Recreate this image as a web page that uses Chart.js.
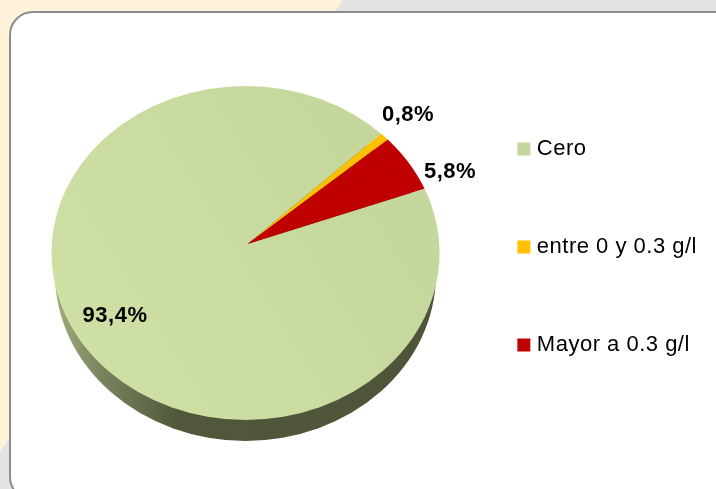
<!DOCTYPE html>
<html>
<head>
<meta charset="utf-8">
<script src="https://cdn.jsdelivr.net/npm/chart.js@4"></script>
<style>
  html, body { margin: 0; padding: 0; width: 716px; height: 489px; overflow: hidden; background: #e3e3e3; }
  #cream { position: absolute; left: 0; top: 0; width: 716px; height: 489px; background: #fff2d9;
           clip-path: polygon(0 0, 343px 0, 335px 12px, 8px 440px, 0 452px); }
  #panel { position: absolute; left: 9px; top: 11px; width: 760px; height: 490px; box-sizing: border-box;
           background: #fff; border: 2px solid #8c8c8c; border-radius: 24px; }
  #wrap { position: absolute; left: 0; top: 0; width: 716px; height: 489px; }
</style>
</head>
<body>
<div id="cream"></div>
<div id="panel"></div>
<div id="wrap"><canvas id="myChart"></canvas></div>
<script>
const categories = ["Cero", "entre 0 y 0.3 g/l", "Mayor a 0.3 g/l"];
const values = [93.4, 0.8, 5.8];
const sliceColors = ["#c3d69b", "#ffc000", "#c00000"];

// where each percentage sits on the page
const labelSpots = [[115, 316], [408, 115], [450, 172]];

// the top of the pie is an ellipse, its apex sits a bit above the ellipse centre
const top_ = { cx: 245.5, cy: 253, rx: 194, ry: 167, depth: 21, sideRx: 190.5 };

// big slice gets a faint sheen, lighter towards the lower left
const sheen = document.getElementById("myChart").getContext("2d").createLinearGradient(60, 350, 430, 150);
sheen.addColorStop(0, "#cfe0a4");
sheen.addColorStop(1, sliceColors[0]);

const tiltedPie = {
  id: "tiltedPie",
  beforeLayout(chart) {
    chart.ctx.letterSpacing = "0.5px"; // reference text runs wider than Liberation
  },
  afterLayout(chart) {
    chart.legend.top += 3;
    chart.legend.bottom += 3;
  },
  beforeDraw(chart) {
    chart.ctx.letterSpacing = "0.5px";
  },
  beforeDatasetsDraw(chart) {
    const ctx = chart.ctx;
    const arc = chart.getDatasetMeta(0).data[0];
    // side of the pie
    const g = ctx.createLinearGradient(top_.cx - top_.rx, 0, top_.cx + top_.rx, 0);
    g.addColorStop(0, "#a3b080");
    g.addColorStop(0.12, "#7a8660");
    g.addColorStop(0.33, "#50573a");
    g.addColorStop(1, "#4e5439");
    ctx.save();
    ctx.fillStyle = g;
    ctx.beginPath();
    ctx.ellipse(top_.cx, top_.cy + top_.depth, top_.sideRx, top_.ry, 0, 0, Math.PI * 2);
    ctx.fill();
    ctx.restore();
    // top face: slices clipped to the ellipse, squashed round their apex
    ctx.save();
    ctx.beginPath();
    ctx.ellipse(top_.cx, top_.cy, top_.rx, top_.ry, 0, 0, Math.PI * 2);
    ctx.clip();
    ctx.translate(arc.x, arc.y);
    ctx.scale(1, top_.ry / top_.rx);
    ctx.translate(-arc.x, -arc.y);
  },
  afterDatasetsDraw(chart) {
    const ctx = chart.ctx;
    ctx.restore();
    ctx.save();
    ctx.fillStyle = "#000";
    ctx.font = "bold 22px 'Liberation Sans'";
    ctx.textAlign = "center";
    ctx.textBaseline = "middle";
    values.forEach((v, i) => {
      ctx.fillText(v.toFixed(1).replace(".", ",") + "%", labelSpots[i][0], labelSpots[i][1]);
    });
    ctx.restore();
  }
};

const myChart = new Chart("myChart", {
  type: "pie",
  data: {
    labels: categories,
    datasets: [{
      data: values,
      backgroundColor: [sheen, sliceColors[1], sliceColors[2]],
      borderWidth: 0,
      radius: 210
    }]
  },
  options: {
    responsive: true,
    maintainAspectRatio: false,
    animation: false,
    rotation: 70,
    layout: { padding: { left: 49, right: 9, top: 34, bottom: 35 } },
    plugins: {
      tooltip: { enabled: false },
      legend: {
        position: "right",
        labels: {
          usePointStyle: true,
          pointStyle: "rect",
          boxWidth: 4,
          boxHeight: 13,
          padding: 76,
          color: "#000",
          font: { family: "'Liberation Sans'", size: 22 }
        }
      }
    }
  },
  plugins: [tiltedPie]
});
</script>
</body>
</html>
